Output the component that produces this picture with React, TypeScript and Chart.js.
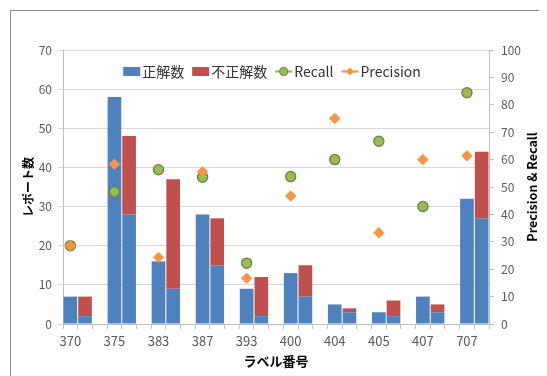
import React, { useEffect, useRef } from 'react';
import { Chart, registerables } from 'chart.js';

Chart.register(...registerables);

// ---- data ----
const categories = ['370', '375', '383', '387', '393', '400', '404', '405', '407', '707'];
const firstBarCorrect = [7, 58, 16, 28, 9, 13, 5, 3, 7, 32];
const secondBarCorrect = [2, 28, 9, 15, 2, 7, 3, 2, 3, 27];
const secondBarIncorrect = [5, 20, 28, 12, 10, 8, 1, 4, 2, 17];
const recallValues = [28.6, 48.3, 56.3, 53.6, 22.2, 53.8, 60.0, 66.7, 42.9, 84.4];
const precisionValues = [28.6, 58.3, 24.3, 55.6, 16.7, 46.7, 75.0, 33.3, 60.0, 61.4];
const leftAxisMax = 70;
const rightAxisMax = 100;
const tickStep = 10;

const FONT = '"Noto Sans CJK JP", "Noto Sans", sans-serif';
const BLUE = '#4F81BD';
const RED = '#C0504D';
const GREEN = '#9BBB59';
const GREEN_DARK = '#71893F';
const ORANGE = '#F79646';

// build slot table: [bar1, bar2, gap] per category (no gap after the last one)
const slotLabels: string[] = [];
const blueSlots: (number | null)[] = [];
const redSlots: (number | null)[] = [];
const recallSlots: (number | null)[] = [];
const precisionSlots: (number | null)[] = [];
categories.forEach((c, i) => {
  slotLabels.push(c, '');
  blueSlots.push(firstBarCorrect[i], secondBarCorrect[i]);
  redSlots.push(null, secondBarIncorrect[i]);
  recallSlots.push(recallValues[i], null);
  precisionSlots.push(precisionValues[i], null);
  if (i < categories.length - 1) {
    slotLabels.push('');
    blueSlots.push(null);
    redSlots.push(null);
    recallSlots.push(null);
    precisionSlots.push(null);
  }
});

const overlayPlugin = {
  id: 'overlay',
  afterDraw(chart: any) {
    const { ctx, chartArea: a } = chart;
    ctx.save();
    // ---- legend ----
    ctx.font = `14px ${FONT}`;
    ctx.textBaseline = 'middle';
    ctx.textAlign = 'left';
    const items = [
      { kind: 'rect', color: BLUE, text: '正解数' },
      { kind: 'rect', color: RED, text: '不正解数' },
      { kind: 'circle', color: GREEN, text: 'Recall' },
      { kind: 'diamond', color: ORANGE, text: 'Precision' },
    ];
    const markerW = 17;
    const gapMT = 2;
    const gapItems = 8;
    let total = 0;
    items.forEach((it, i) => {
      total += markerW + gapMT + ctx.measureText(it.text).width + (i < items.length - 1 ? gapItems : 0);
    });
    let x = (a.left + a.right) / 2 - 4 - total / 2;
    const y = a.top + 21.5;
    items.forEach((it) => {
      if (it.kind === 'rect') {
        ctx.fillStyle = it.color;
        ctx.fillRect(x, y - 4.5, markerW, 9);
      } else {
        ctx.strokeStyle = it.color;
        ctx.lineWidth = 2.2;
        ctx.beginPath();
        ctx.moveTo(x, y);
        ctx.lineTo(x + markerW, y);
        ctx.stroke();
        const cx = x + markerW / 2;
        if (it.kind === 'circle') {
          ctx.beginPath();
          ctx.arc(cx, y, 4, 0, Math.PI * 2);
          ctx.fillStyle = GREEN;
          ctx.fill();
          ctx.lineWidth = 1.2;
          ctx.strokeStyle = GREEN_DARK;
          ctx.stroke();
        } else {
          ctx.beginPath();
          ctx.moveTo(cx, y - 4);
          ctx.lineTo(cx + 4, y);
          ctx.lineTo(cx, y + 4);
          ctx.lineTo(cx - 4, y);
          ctx.closePath();
          ctx.fillStyle = ORANGE;
          ctx.fill();
        }
      }
      x += markerW + gapMT;
      ctx.fillStyle = '#333333';
      ctx.fillText(it.text, x, y + 0.5);
      x += ctx.measureText(it.text).width + gapItems;
    });

    // ---- axis titles ----
    ctx.fillStyle = '#000000';
    ctx.textAlign = 'center';
    ctx.textBaseline = 'middle';
    const midY = (a.top + a.bottom) / 2;
    ctx.font = `bold 12px ${FONT}`;
    ctx.save();
    ctx.translate(a.left - 34.5, midY);
    ctx.rotate(-Math.PI / 2);
    ctx.fillText('レポート数', 0, 0);
    ctx.restore();

    ctx.font = `bold 12.5px ${FONT}`;
    ctx.save();
    ctx.translate(a.right + 43, midY);
    ctx.rotate(-Math.PI / 2);
    ctx.fillText('Precision & Recall', 0, 0);
    ctx.restore();

    ctx.font = `bold 13px ${FONT}`;
    ctx.fillText('ラベル番号', (a.left + a.right) / 2, a.bottom + 37.5);
    ctx.restore();
  },
};

export default function App() {
  const canvasRef = useRef<HTMLCanvasElement | null>(null);

  useEffect(() => {
    if (!canvasRef.current) return;
    const chart = new Chart(canvasRef.current, {
      type: 'bar',
      data: {
        labels: slotLabels,
        datasets: [
          {
            type: 'line',
            label: 'Precision',
            data: precisionSlots,
            yAxisID: 'y1',
            showLine: false,
            pointStyle: 'rectRot',
            pointRadius: 5.2,
            pointBackgroundColor: ORANGE,
            pointBorderColor: ORANGE,
            pointBorderWidth: 1,
            order: 0,
          } as any,
          {
            type: 'line',
            label: 'Recall',
            data: recallSlots,
            yAxisID: 'y1',
            showLine: false,
            pointStyle: 'circle',
            pointRadius: 5,
            pointBackgroundColor: GREEN,
            pointBorderColor: GREEN_DARK,
            pointBorderWidth: 1.5,
            order: 1,
          } as any,
          {
            type: 'bar',
            label: '正解数',
            data: blueSlots,
            yAxisID: 'y',
            backgroundColor: BLUE,
            stack: 's',
            order: 2,
            barPercentage: 0.93,
            categoryPercentage: 1,
          } as any,
          {
            type: 'bar',
            label: '不正解数',
            data: redSlots,
            yAxisID: 'y',
            backgroundColor: RED,
            stack: 's',
            order: 3,
            barPercentage: 0.93,
            categoryPercentage: 1,
          } as any,
        ],
      },
      options: {
        animation: false,
        responsive: true,
        maintainAspectRatio: false,
        layout: { padding: { top: 42, left: 0, right: 0, bottom: 0 } },
        plugins: {
          legend: { display: false },
          tooltip: { enabled: false },
        },
        scales: {
          x: {
            stacked: true,
            offset: true,
            grid: {
              offset: true,
              drawOnChartArea: false,
              drawTicks: true,
              tickLength: 5,
              color: '#BFBFBF',
            },
            border: { display: true, color: '#BFBFBF' },
            ticks: {
              autoSkip: false,
              maxRotation: 0,
              minRotation: 0,
              color: '#595959',
              font: { family: FONT, size: 13 },
              padding: 4,
            },
            afterFit: (s: any) => {
              s.height = 52;
            },
          },
          y: {
            stacked: true,
            position: 'left',
            min: 0,
            max: leftAxisMax,
            ticks: {
              stepSize: tickStep,
              color: '#595959',
              font: { family: FONT, size: 12 },
              padding: 6,
            },
            grid: { color: '#D9D9D9', drawTicks: true, tickLength: 5 },
            border: { display: true, color: '#BFBFBF' },
            afterFit: (s: any) => {
              s.width = 55;
            },
          },
          y1: {
            position: 'right',
            min: 0,
            max: rightAxisMax,
            ticks: {
              stepSize: tickStep,
              color: '#595959',
              font: { family: FONT, size: 12 },
              padding: 7,
            },
            grid: { drawOnChartArea: false, drawTicks: true, tickLength: 5, color: '#BFBFBF' },
            border: { display: true, color: '#BFBFBF' },
            afterFit: (s: any) => {
              s.width = 58;
            },
          },
        },
      } as any,
      plugins: [overlayPlugin],
    });
    return () => chart.destroy();
  }, []);

  return (
    <div style={{ position: 'relative', width: 539, height: 368, overflow: 'hidden' }}>
      <div
        style={{
          position: 'absolute',
          left: 2,
          top: 2,
          width: 1000,
          height: 1000,
          border: '1px solid #8C8C8C',
          boxSizing: 'border-box',
        }}
      />
      <div style={{ position: 'absolute', left: 0, top: 0, width: 539, height: 368 }}>
        <canvas ref={canvasRef} />
      </div>
    </div>
  );
}
